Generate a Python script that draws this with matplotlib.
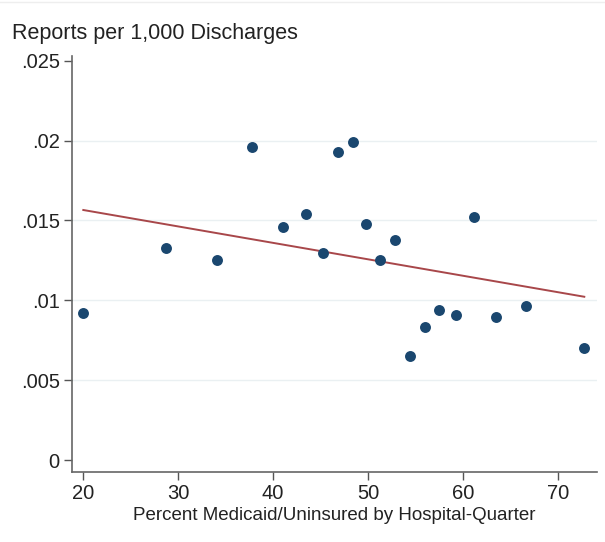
import matplotlib.pyplot as plt
from matplotlib.ticker import FuncFormatter
from matplotlib.lines import Line2D
import numpy as np

# binned means: share Medicaid/uninsured vs. reports per 1,000 discharges
pct_medicaid = [20.0, 28.7, 34.1, 37.8, 41.0, 43.5, 45.3, 46.8, 48.4, 49.8,
                51.3, 52.8, 54.4, 56.0, 57.5, 59.3, 61.2, 63.5, 66.7, 72.8]
reports = [0.00919, 0.01325, 0.01250, 0.01960, 0.01456, 0.01538, 0.01294,
           0.01930, 0.01990, 0.01475, 0.01250, 0.01375, 0.00650, 0.00830,
           0.00940, 0.00906, 0.01520, 0.00894, 0.00963, 0.00699]

# linear fit endpoints
fit_x = [20.0, 72.8]
fit_y = [0.01565, 0.01022]

yticks = [0, 0.005, 0.01, 0.015, 0.02, 0.025]
ygrid = [0.005, 0.01, 0.015, 0.02]
xticks = [20, 30, 40, 50, 60, 70]

plt.rcParams['font.family'] = ['Liberation Sans', 'DejaVu Sans']

fig = plt.figure(figsize=(6.05, 5.42), dpi=100)
ax = fig.add_axes([0.1195, 0.1297, 0.8673, 0.767])

for g in ygrid:
    ax.axhline(g, color='#eaf0f2', linewidth=1.0, zorder=0)

ax.plot(fit_x, fit_y, color='#a8474a', linewidth=1.4, zorder=2)
ax.scatter(pct_medicaid, reports, s=62, color='#1a476f', zorder=3, linewidths=0)

ax.set_xlim(18.84, 74.14)
ax.set_ylim(-0.00073, 0.02529)
ax.set_xticks(xticks)
ax.set_yticks(yticks)

def stata_fmt(v, pos):
    if abs(v) < 1e-12:
        return '0'
    s = ('%.3f' % v).rstrip('0')
    return s[1:] if s.startswith('0') else s

ax.yaxis.set_major_formatter(FuncFormatter(stata_fmt))
ax.tick_params(axis='both', direction='out', length=6, width=1.0,
               color='#555555', labelsize=14.5, labelcolor='#222222', pad=3)

for side in ['top', 'right']:
    ax.spines[side].set_visible(False)
for side in ['left', 'bottom']:
    ax.spines[side].set_color('#666666')
    ax.spines[side].set_linewidth(1.2)

ax.set_xlabel('Percent Medicaid/Uninsured by Hospital-Quarter',
              fontsize=13.5, color='#222222', labelpad=3)
fig.text(12 / 605, 1 - 33 / 542, 'Reports per 1,000 Discharges',
         fontsize=15.5, color='#222222', ha='left', va='center')

# faint outer frame line along the top
fig.add_artist(Line2D([0, 1], [1 - 1.5 / 542, 1 - 1.5 / 542],
                      transform=fig.transFigure, color='#eeeeee', linewidth=1))

fig.savefig('out.png', dpi=100)
